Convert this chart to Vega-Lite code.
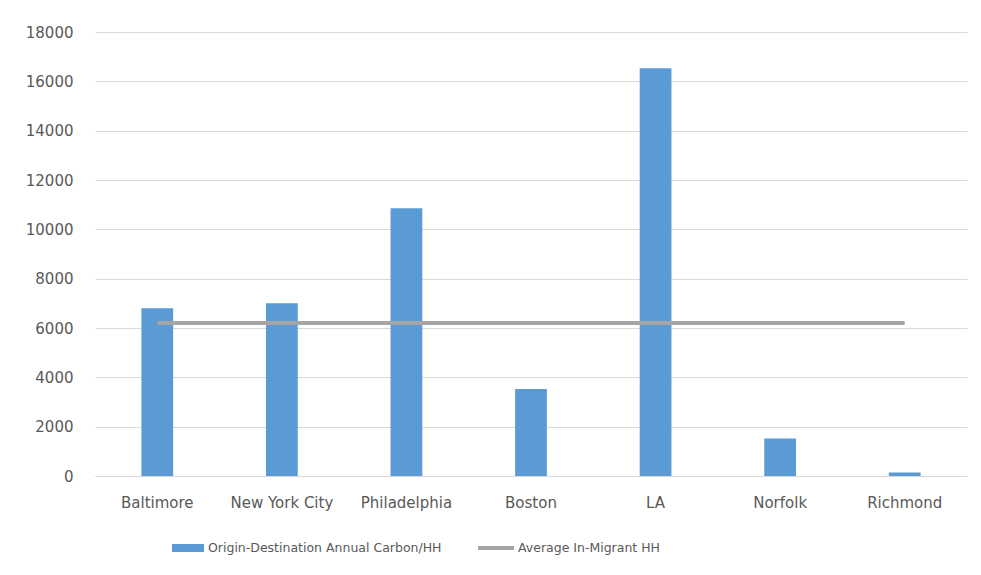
{
  "$schema": "https://vega.github.io/schema/vega-lite/v6.json",
  "width": 872,
  "height": 444,
  "autosize": {"type": "none"},
  "padding": {"left": 95, "top": 32, "right": 14, "bottom": 99},
  "background": "white",
  "config": {
    "view": {"stroke": null},
    "font": "DejaVu Sans",
    "axis": {
      "labelColor": "#595959",
      "labelFont": "DejaVu Sans",
      "labelFontSize": 15,
      "ticks": false,
      "title": null,
      "gridColor": "#d9d9d9",
      "gridWidth": 1,
      "domainColor": "#d9d9d9"
    },
    "legend": {
      "labelColor": "#595959",
      "labelFont": "DejaVu Sans",
      "labelFontSize": 12.5,
      "labelLimit": 400,
      "padding": 0,
      "title": null
    }
  },
  "data": {
    "values": [
      {"city": "Baltimore", "carbon": 6800, "avg": 6200},
      {"city": "New York City", "carbon": 7000, "avg": 6200},
      {"city": "Philadelphia", "carbon": 10850, "avg": 6200},
      {"city": "Boston", "carbon": 3530, "avg": 6200},
      {"city": "LA", "carbon": 16530, "avg": 6200},
      {"city": "Norfolk", "carbon": 1520, "avg": 6200},
      {"city": "Richmond", "carbon": 140, "avg": 6200}
    ]
  },
  "encoding": {
    "x": {
      "field": "city",
      "type": "nominal",
      "sort": null,
      "scale": {"paddingInner": 0.745, "paddingOuter": 0.3725},
      "axis": {"labelAngle": 0, "labelPadding": 19, "grid": false, "domain": true}
    }
  },
  "layer": [
    {
      "mark": {"type": "bar", "strokeWidth": 0},
      "encoding": {
        "y": {
          "field": "carbon",
          "type": "quantitative",
          "scale": {"domain": [0, 18000], "nice": false},
          "axis": {
            "values": [0, 2000, 4000, 6000, 8000, 10000, 12000, 14000, 16000, 18000],
            "format": "d",
            "domain": false,
            "labelPadding": 22
          }
        },
        "fill": {
          "datum": "Origin-Destination Annual Carbon/HH",
          "scale": {"range": ["#5b9bd5"]},
          "legend": {
            "orient": "none",
            "legendX": 77,
            "legendY": 500,
            "symbolType": "M-1,-0.25H1V0.25H-1Z",
            "symbolSize": 1024,
            "symbolStrokeWidth": 0,
            "symbolFillColor": "#5b9bd5",
            "labelOffset": 4
          }
        }
      }
    },
    {
      "mark": {"type": "line", "strokeWidth": 4, "strokeCap": "butt"},
      "encoding": {
        "y": {"field": "avg", "type": "quantitative"},
        "stroke": {
          "datum": "Average In-Migrant HH",
          "scale": {"range": ["#a5a5a5"]},
          "legend": {
            "orient": "none",
            "legendX": 381,
            "legendY": 496,
            "symbolType": "stroke",
            "symbolSize": 1296,
            "symbolStrokeWidth": 4,
            "labelOffset": 2
          }
        }
      }
    }
  ]
}
